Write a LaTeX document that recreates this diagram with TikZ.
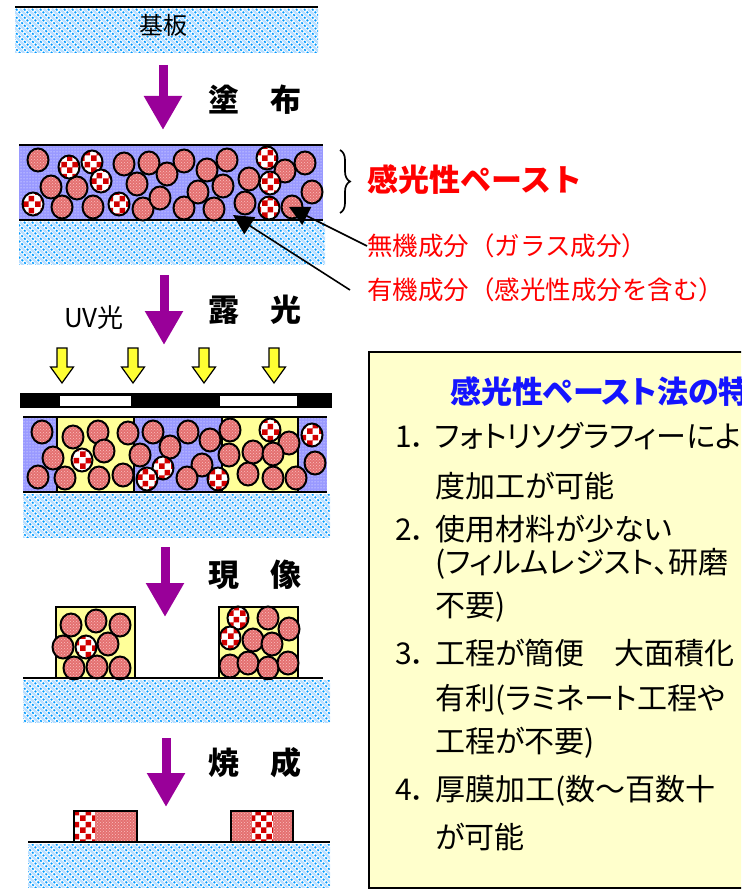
\documentclass[tikz,border=0pt]{standalone}
\usepackage{fontspec}
\setmainfont{Noto Sans CJK JP}
\newfontfamily\narrowjp[RawFeature=+palt]{Noto Sans CJK JP}
\usetikzlibrary{arrows.meta,patterns,decorations.pathreplacing}

\definecolor{procpurple}{RGB}{153,0,153}
\definecolor{basecyan}{RGB}{0,153,255}
\definecolor{baselight}{RGB}{185,222,255}
\definecolor{pastelav}{RGB}{153,153,255}
\definecolor{ballpink}{RGB}{228,112,112}
\definecolor{ballpale}{RGB}{250,192,192}
\definecolor{glassred}{RGB}{210,0,0}
\definecolor{resistyel}{RGB}{255,255,153}
\definecolor{uvyel}{RGB}{255,255,51}
\definecolor{notebg}{RGB}{255,255,204}
\definecolor{titleblue}{RGB}{20,20,255}

\tikzset{
  ballfill/.style={preaction={fill=ballpink}, pattern=crosshatch dots, pattern color=ballpale},
  glassfill/.style={preaction={fill=white}, pattern=checkerboard, pattern color=glassred},
  ball/.style={ballfill, draw=black, line width=2pt},
  glass/.style={glassfill, draw=black, line width=2pt},
  paste/.style={preaction={fill=pastelav}, pattern=dots, pattern color=white},
  resist/.style={fill=resistyel},
  procarrow/.style={procpurple, line width=9pt, -{Triangle[length=34pt,width=36pt]}},
  uvarrow/.style={fill=uvyel, draw=black, line width=1.2pt, line join=miter},
  stagelbl/.style={font=\bfseries\fontsize{31}{31}\selectfont},
  ptr/.style={line width=1.6pt, -{Triangle[length=20pt,width=20pt]}},
  notetxt/.style={anchor=west, font=\narrowjp\fontsize{30}{30}\selectfont},
}

% hatched substrate: left, top, right, bottom
\newcommand{\myBase}[4]{
\begin{scope}
  \clip (#1,#2) rectangle (#3,#4);
  \foreach \k in {-48,-40,...,340} {
    \draw[baselight, line width=2.2pt] (\k+4,#2) -- ++(50,50);
    \draw[basecyan, line width=1.5pt, dash pattern=on 2pt off 1.8pt] (\k,#2) -- ++(50,50);
  }
\end{scope}
}
% particles: organic list, glass list
\newcommand{\myBalls}[2]{
  \foreach \x/\y in {#1} \draw[ball] (\x,\y) ellipse [x radius=10.5pt, y radius=11.5pt];
  \foreach \x/\y in {#2} \draw[glass] (\x,\y) ellipse [x radius=10.5pt, y radius=11.5pt];
}

\begin{document}
\begin{tikzpicture}[x=1pt, y=-1pt, every node/.style={inner sep=0pt}]
	\useasboundingbox (0,0) rectangle (741,890);
	\clip (0,0) rectangle (741,890);

	% substrate
	\myBase{15}{9}{318}{53}
	\draw[line width=2pt] (15,7) -- (318,7);
	\node (sub) at (163,25) {\fontsize{24}{24}\selectfont 基板};

	% coating
	\coordinate (a1) at (163,65);
	\coordinate (b1) at (163,130);
	\draw[procarrow] (a1) -- (b1);
	\node[stagelbl] (coat) at (255,100) {塗　布};

	\fill[paste] (19,145) rectangle (323,220);
	\draw[line width=2pt] (19,145) -- (323,145) (19,220) -- (323,220);
	\myBase{19}{222}{325}{265}
	\myBalls{38/160, 51/187, 77/188, 62/207, 93/207, 124/164, 137/184, 149/163,
		143/209, 167/174, 160/198, 184/161, 184/208, 198/192, 207/170, 227/160,
		223/186, 214/209, 249/179, 245/203, 285/171, 305/163, 312/192, 292/207}
		{69/167, 92/162, 101/181, 33/204, 119/204, 267/158, 270/183, 269/208}

	% paste labels
	\coordinate (bt) at (340,150);
	\coordinate (bb) at (340,213);
	\draw[decorate, decoration={brace, amplitude=10pt}, line width=1.7pt] (bt) -- (bb);
	\node[anchor=west, red, font=\bfseries\fontsize{31}{31}\selectfont] (paste) at (367,180) {感光性ペースト};
	\node[anchor=west, red, font=\fontsize{25.5}{25.5}\selectfont] (inorg) at (367,246) {無機成分（ガラス成分）};
	\node[anchor=west, red, font=\fontsize{25.5}{25.5}\selectfont] (org) at (367,290) {有機成分（感光性成分を含む）};
	\coordinate (glasstip) at (289,207);
	\coordinate (orgtip) at (233,215);
	\draw[ptr] (inorg.west) -- (glasstip);
	\draw[ptr] ([xshift=-17pt]org.west) -- (orgtip);

	% exposure
	\coordinate (a2) at (164,275);
	\coordinate (b2) at (164,345);
	\draw[procarrow] (a2) -- (b2);
	\node[stagelbl] (expo) at (255,310) {露　光};
	\node (uv) at (94,318) {\fontsize{26}{26}\selectfont UV光};
	\foreach \x in {62,133,204,274}
		\draw[uvarrow] (\x-5,348) -- (\x+5,348) -- (\x+5,367) -- (\x+11.5,367)
			-- (\x,383) -- (\x-11.5,367) -- (\x-5,367) -- cycle;
	\fill[black] (20,393) rectangle (332,408);
	\fill[white] (60,396) rectangle (131,406);
	\fill[white] (220,396) rectangle (297,406);

	\fill[paste] (23,417) rectangle (327,492);
	\fill[resist] (57,417) rectangle (134,492);
	\fill[resist] (222,417) rectangle (298,492);
	\draw[line width=1.5pt] (57,417) -- (57,492) (134,417) -- (134,492)
		(222,417) -- (222,492) (298,417) -- (298,492);
	\draw[line width=2pt] (23,417) -- (327,417) (23,492) -- (327,492);
	\myBase{23}{494}{330}{537}
	\myBalls{42/432, 73/437, 98/432, 128/433, 153/432, 188/432, 230/430,
		53/458, 104/451, 140/455, 170/447, 210/440, 289/443, 253/452, 273/454,
		229/455, 202/465, 315/463, 38/477, 65/478, 99/478, 123/475, 187/478,
		248/474, 273/478, 296/478}
		{270/430, 312/435, 82/460, 163/468, 147/479, 218/479}

	% development
	\coordinate (a3) at (165,547);
	\coordinate (b3) at (165,617);
	\draw[procarrow] (a3) -- (b3);
	\node[stagelbl] (devel) at (255,575) {現　像};
	\draw[resist, line width=1.5pt] (56,607) rectangle (135,678);
	\draw[resist, line width=1.5pt] (219,607) rectangle (298,678);
	\myBalls{71/625, 96/621, 120/625, 63/647, 108/644, 74/668, 97/667, 120/668,
		268/618, 289/629, 253/640, 272/644, 230/666, 248/663, 268/668, 288/663}
		{86/647, 238/618, 230/638}
	\draw[line width=2pt] (23,678) -- (323,678);
	\myBase{23}{680}{330}{722}

	% firing
	\coordinate (a4) at (166,738);
	\coordinate (b4) at (166,807);
	\draw[procarrow] (a4) -- (b4);
	\node[stagelbl] (fire) at (255,763) {焼　成};
	\fill[glassfill] (74,811) rectangle (95,842);
	\fill[ballfill] (95,811) rectangle (137,842);
	\draw[line width=1.5pt] (74,811) rectangle (137,842);
	\fill[ballfill] (231,811) rectangle (252,842);
	\fill[glassfill] (252,811) rectangle (273,842);
	\fill[ballfill] (273,811) rectangle (293,842);
	\draw[line width=1.5pt] (231,811) rectangle (293,842);
	\draw[line width=2pt] (28,842) -- (330,842);
	\myBase{28}{844}{330}{887}

	% features box
	\draw[fill=notebg, line width=1.3pt] (369,352) rectangle (790,888);
	\node[anchor=west, titleblue, font=\narrowjp\bfseries\fontsize{31}{31}\selectfont] (ttl) at (450,392) {感光性ペースト法の特};
	\node[notetxt] (f1) at (395,436) {\makebox[40pt][l]{1．}フォトリソグラフィーによ};
	\node[notetxt] (f1b) at (435,486) {度加工が可能};
	\node[notetxt] (f2) at (395,529) {\makebox[40pt][l]{2．}使用材料が少ない};
	\node[notetxt] (f2b) at (435,564) {(フィルムレジスト、研磨};
	\node[notetxt] (f2c) at (435,607) {不要)};
	\node[notetxt] (f3) at (395,653) {\makebox[40pt][l]{3．}工程が簡便　大面積化};
	\node[notetxt] (f3b) at (435,700) {有利(ラミネート工程や};
	\node[notetxt] (f3c) at (435,743) {工程が不要)};
	\node[notetxt] (f4) at (395,791) {\makebox[40pt][l]{4．}厚膜加工(数～百数十};
	\node[notetxt] (f4b) at (435,837) {が可能};
\end{tikzpicture}
\end{document}
